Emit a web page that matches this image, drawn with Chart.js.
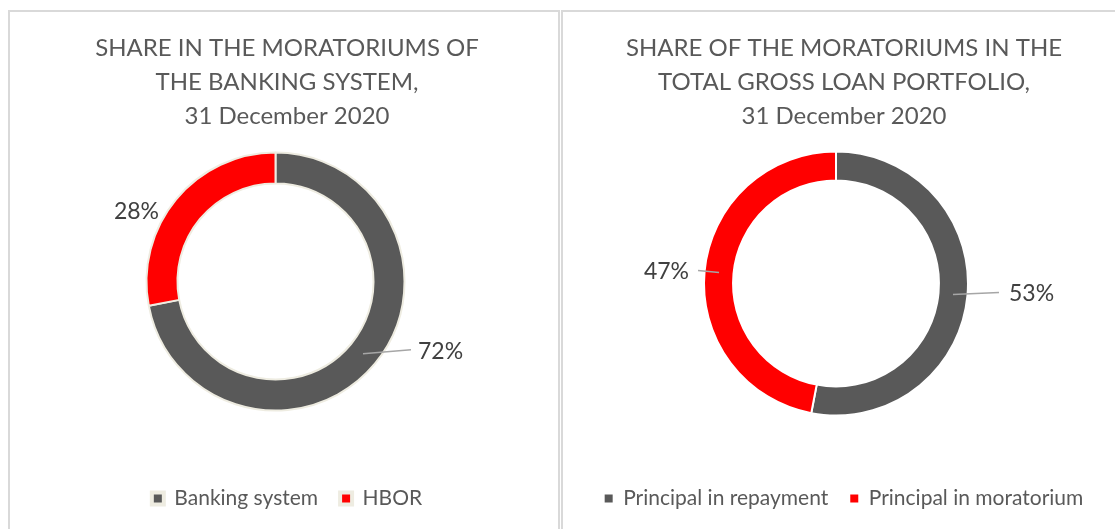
<!DOCTYPE html>
<html><head><meta charset="utf-8">
<script src="https://cdn.jsdelivr.net/npm/chart.js@4.4.0/dist/chart.umd.min.js"></script>
<style>
html,body{margin:0;padding:0;background:#fff;width:1115px;height:529px;overflow:hidden;position:relative}
.panel{position:absolute;border-color:#d9d9d9;border-style:solid;box-sizing:border-box}
#p1{left:8px;top:10px;width:552px;height:540px;border-width:2px 2px 0 2px}
#p2{left:561px;top:10px;width:560px;height:540px;border-width:2px 0 0 2px}
canvas{position:absolute}
#c1{left:10px;top:12px}
#c2{left:563px;top:12px}
</style></head>
<body>
<div class="panel" id="p1"></div>
<div class="panel" id="p2"></div>
<canvas id="c1" width="548" height="517"></canvas>
<canvas id="c2" width="552" height="517"></canvas>
<script>
// ---- data ----
const bankingLabels = ['Banking system', 'HBOR'];
const bankingValues = [72, 28];
const portfolioLabels = ['Principal in repayment', 'Principal in moratorium'];
const portfolioValues = [53, 47];
const sliceColors = ['#595959', '#ff0000'];
const bankingTitle = ['SHARE IN THE MORATORIUMS OF', 'THE BANKING SYSTEM,', '31 December 2020'];
const portfolioTitle = ['SHARE OF THE MORATORIUMS IN THE', 'TOTAL GROSS LOAN PORTFOLIO,', '31 December 2020'];

const FONT = 'Lato';

// shift the chart area (ring centre) relative to title/legend
const areaShift = {
  id: 'areaShift',
  afterLayout(chart, args, opts) {
    const a = chart.chartArea;
    a.left += opts.dx; a.right += opts.dx;
    a.top += opts.dy; a.bottom += opts.dy;
  }
};

// percentage labels with leader lines
const pctLabels = {
  id: 'pctLabels',
  afterDatasetsDraw(chart, args, opts) {
    const ctx = chart.ctx;
    const meta = chart.getDatasetMeta(0);
    const data = chart.data.datasets[0].data;
    const total = data.reduce((a, b) => a + b, 0);
    meta.data.forEach((arc, i) => {
      const p = arc.getProps(['x', 'y', 'startAngle', 'endAngle', 'innerRadius', 'outerRadius'], true);
      const mid = (p.startAngle + p.endAngle) / 2;
      const r = (p.innerRadius + p.outerRadius) / 2;
      const ax = p.x + Math.cos(mid) * r, ay = p.y + Math.sin(mid) * r;
      const o = opts.offsets[i];
      ctx.save();
      if (o.line) {
        ctx.strokeStyle = '#a6a6a6';
        ctx.lineWidth = 1.5;
        ctx.beginPath();
        ctx.moveTo(ax, ay);
        ctx.lineTo(ax + o.line[0], ay + o.line[1]);
        ctx.stroke();
      }
      ctx.fillStyle = '#404040';
      ctx.font = opts.fontSize + 'px ' + FONT;
      ctx.textAlign = o.align;
      ctx.textBaseline = 'middle';
      ctx.fillText(Math.round(data[i] / total * 100) + '%', ax + o.text[0], ay + o.text[1]);
      ctx.restore();
    });
  }
};

function makeChart(id, labels, values, title, cfg) {
  return new Chart(document.getElementById(id), {
    type: 'doughnut',
    data: {
      labels: labels,
      datasets: [{
        data: values,
        backgroundColor: sliceColors,
        borderColor: cfg.borderColor,
        borderWidth: 2,
        hoverOffset: 0,
        clip: false
      }]
    },
    plugins: [areaShift, pctLabels],
    options: {
      responsive: false,
      animation: false,
      devicePixelRatio: 1,
      events: [],
      radius: cfg.radius,
      cutout: cfg.cutout,
      layout: { padding: cfg.padding },
      plugins: {
        tooltip: { enabled: false },
        title: {
          display: true,
          text: title,
          color: '#595959',
          font: { family: FONT, size: 24, weight: 'normal', lineHeight: '34px' },
          padding: { top: 19, bottom: 0 }
        },
        legend: {
          position: 'bottom',
          labels: {
            color: '#595959',
            font: { family: FONT, size: 21 },
            boxWidth: cfg.boxSize,
            boxHeight: cfg.boxSize,
            padding: 22,
            generateLabels(chart) {
              const items = Chart.overrides.doughnut.plugins.legend.labels.generateLabels(chart);
              items.forEach(it => { it.lineWidth = cfg.boxBorder; });
              return items;
            }
          }
        },
        areaShift: cfg.shift,
        pctLabels: { fontSize: 23, offsets: cfg.offsets }
      }
    }
  });
}

makeChart('c1', bankingLabels, bankingValues, bankingTitle, {
  borderColor: '#eeece1',
  radius: 129,
  cutout: '76%',
  padding: { bottom: 10, left: 6 },
  boxSize: 12,
  boxBorder: 4,
  shift: { dx: -11.5, dy: -18 },
  offsets: [
    { line: [48, -4], text: [55, -2], align: 'left' },
    { line: null, text: [-29, 2], align: 'right' }
  ]
});

makeChart('c2', portfolioLabels, portfolioValues, portfolioTitle, {
  borderColor: '#ffffff',
  radius: 132,
  cutout: '78%',
  padding: { bottom: 10, left: 10 },
  boxSize: 8,
  boxBorder: 0,
  shift: { dx: -8, dy: -16 },
  offsets: [
    { line: [46, -2], text: [56, -1], align: 'left' },
    { line: [-21, -2], text: [-30, -1], align: 'right' }
  ]
});
</script>
</body></html>
